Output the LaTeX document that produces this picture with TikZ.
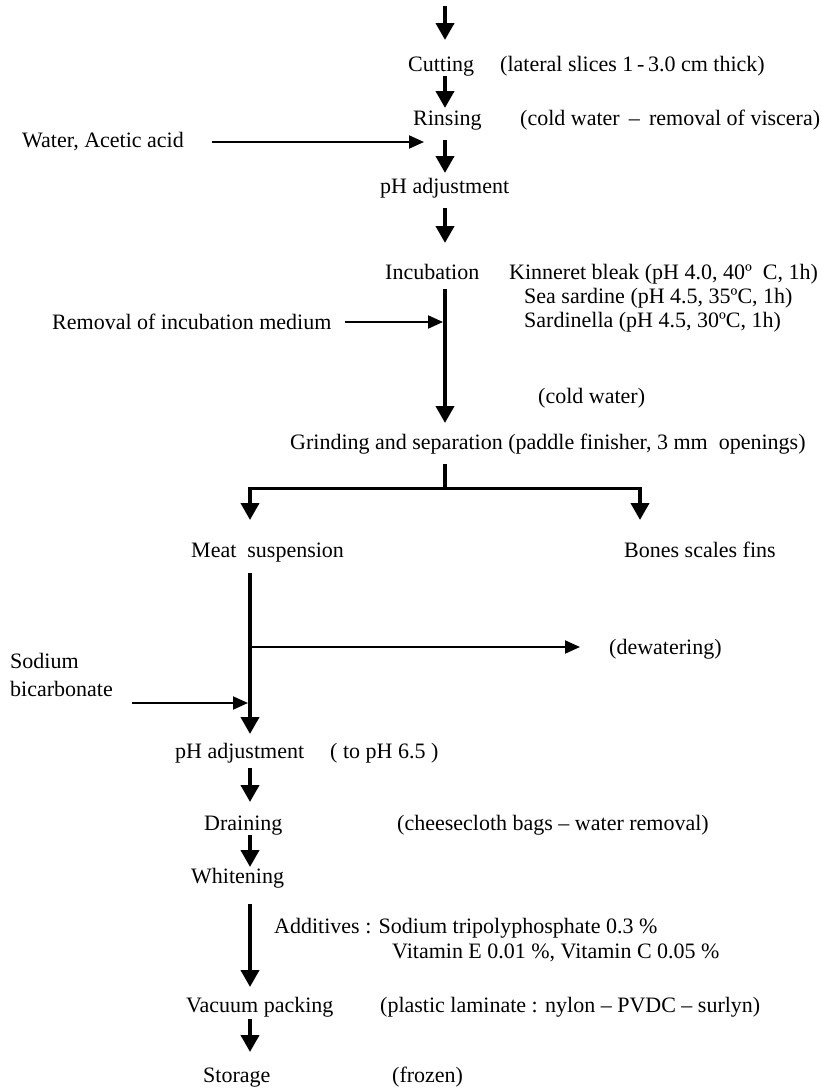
\documentclass[tikz,border=0pt]{standalone}
\usepackage{fontspec}
\setmainfont{Liberation Serif}
\usetikzlibrary{arrows.meta}
\tikzset{
  lbl/.style={inner sep=0pt, anchor=base west, font=\fontsize{22}{26}\selectfont},
  flow/.style={line width=4pt, -{Triangle[length=17pt,width=18pt]}},
  feed/.style={line width=2pt, -{Triangle[length=15pt,width=13pt]}},
  bar/.style={line width=4pt},
  hbar/.style={line width=3pt},
}
\begin{document}
\begin{tikzpicture}[x=1pt,y=-1pt]
\useasboundingbox (0,0) rectangle (822,1090);
% texts
\node[lbl] (cut)  at (408,71)  {Cutting};
\node[lbl] (cutn) at (500,71)  {(lateral slices 1\,-\,3.0 cm thick)};
\node[lbl] (rin)  at (413,125) {Rinsing};
\node[lbl] (rinn) at (520,125) {(cold water \,–\, removal of viscera)};
\node[lbl] (wat)  at (22,147)  {Water, Acetic acid};
\node[lbl] (ph1)  at (380,193) {pH adjustment};
\node[lbl] (inc)  at (385,279) {Incubation};
\node[lbl] (kin)  at (509,279) {Kinneret bleak (pH 4.0, 40º\ \ C, 1h)};
\node[lbl] (sea)  at (524,303) {Sea sardine (pH 4.5, 35ºC, 1h)};
\node[lbl] (sarl) at (524,327) {Sardinella (pH 4.5, 30ºC, 1h)};
\node[lbl] (rem)  at (52,329)  {Removal of incubation medium};
\node[lbl] (cw)   at (538,403) {(cold water)};
\node[lbl] (gri)  at (290,449) {Grinding and separation (paddle finisher, 3 mm\ \ openings)};
\node[lbl] (meat) at (191,557) {Meat\ \ suspension};
\node[lbl] (bone) at (624,557) {Bones scales fins};
\node[lbl] (dew)  at (609,654) {(dewatering)};
\node[lbl] (sod)  at (10,668)  {Sodium};
\node[lbl] (bic)  at (10,696)  {bicarbonate};
\node[lbl] (ph2)  at (175,758) {pH adjustment};
\node[lbl] (ph2n) at (330,758) {( to pH 6.5 )};
\node[lbl] (dra)  at (204,830) {Draining};
\node[lbl] (dran) at (397,830) {(cheesecloth bags – water removal)};
\node[lbl] (whi)  at (191,883) {Whitening};
\node[lbl] (add)  at (274,933) {Additives : Sodium tripolyphosphate 0.3 \%};
\node[lbl] (vit)  at (392,958) {Vitamin E 0.01 \%, Vitamin C 0.05 \%};
\node[lbl] (vac)  at (186,1012) {Vacuum packing};
\node[lbl] (vacn) at (380,1012) {(plastic laminate : nylon – PVDC – surlyn)};
\node[lbl] (sto)  at (203,1082) {Storage};
\node[lbl] (fro)  at (392,1082) {(frozen)};
% connector points
\coordinate (in0) at (445,6);    \coordinate (in1) at (445,40);
\coordinate (c0) at (445,76);    \coordinate (c1) at (445,108);
\coordinate (r0) at (445,140);   \coordinate (r1) at (445,173);
\coordinate (w0) at (212,142);   \coordinate (w1) at (424,142);
\coordinate (p0) at (445,208);   \coordinate (p1) at (445,243);
\coordinate (i0) at (445,289);   \coordinate (i1) at (445,423);
\coordinate (m0) at (345,322);   \coordinate (m1) at (443,322);
\coordinate (g0) at (445,464);   \coordinate (gj) at (445,488);
\coordinate (gl) at (250,488);   \coordinate (gr) at (640,488);
\coordinate (gl1) at (250,520);  \coordinate (gr1) at (640,520);
\coordinate (s0) at (250,573);   \coordinate (s1) at (250,734);
\coordinate (d0) at (250,647);   \coordinate (d1) at (580,647);
\coordinate (b0) at (132,703);   \coordinate (b1) at (248,703);
\coordinate (q0) at (250,768);   \coordinate (q1) at (250,802);
\coordinate (e0) at (250,835);   \coordinate (e1) at (250,867);
\coordinate (h0) at (250,904);   \coordinate (h1) at (250,987);
\coordinate (v0) at (250,1019);  \coordinate (v1) at (250,1052);
% connectors
\draw[flow] (in0) -- (in1);
\draw[flow] (c0) -- (c1);
\draw[flow] (r0) -- (r1);
\draw[feed] (w0) -- (w1);
\draw[flow] (p0) -- (p1);
\draw[flow] (i0) -- (i1);
\draw[feed] (m0) -- (m1);
\draw[bar] (g0) -- (gj);
\draw[hbar] ([xshift=-2pt]gl) -- ([xshift=2pt]gr);
\draw[flow] (gl) -- (gl1);
\draw[flow] (gr) -- (gr1);
\draw[flow] (s0) -- (s1);
\draw[feed] (d0) -- (d1);
\draw[feed] (b0) -- (b1);
\draw[flow] (q0) -- (q1);
\draw[flow] (e0) -- (e1);
\draw[flow] (h0) -- (h1);
\draw[flow] (v0) -- (v1);
\end{tikzpicture}
\end{document}
